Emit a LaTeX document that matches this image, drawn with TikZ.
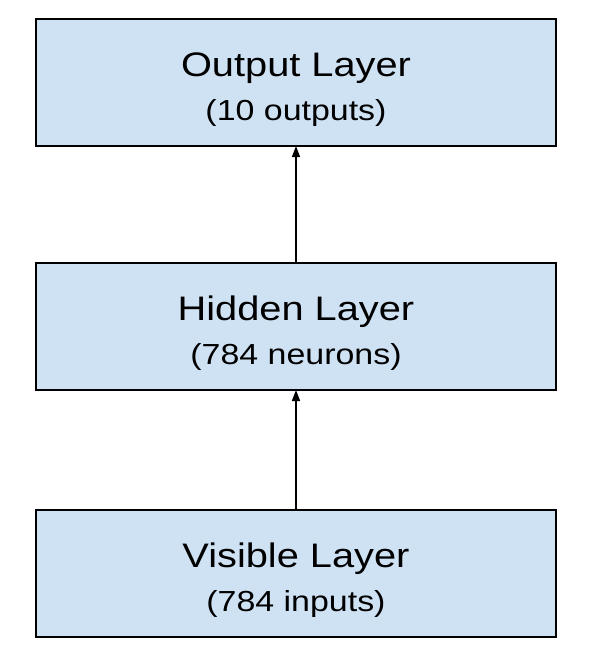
\documentclass[tikz,border=0pt]{standalone}
\usepackage{fontspec}
\newfontfamily\layerfont[FakeStretch=1.17]{Liberation Sans}
\usetikzlibrary{positioning,arrows.meta}
\definecolor{layerblue}{HTML}{CFE2F3}
\newcommand{\layertext}[2]{{\fontsize{34}{36}\selectfont\rule{0pt}{38pt}#1}\\[15pt]{\fontsize{29}{30}\selectfont #2}}
\begin{document}
\begin{tikzpicture}[
        font = \layerfont,
        outer sep = 0mm, inner sep = 0mm,
        layer/.style = {
          rectangle, draw = black, line width = 2pt, fill = layerblue,
          minimum height = 127pt, minimum width = 520pt,
          align = center,
        },
        feed/.style = {
          line width = 1.6pt, -{Triangle[length=11pt, width=8pt]}
        }
      ]

      \useasboundingbox (0,0) rectangle (599pt,-657pt);

      \node[layer] (out) at (296pt,-82.5pt) {\layertext{Output Layer}{(10 outputs)}};
      \node[layer, below = 117pt of out] (hid) {\layertext{Hidden Layer}{(784 neurons)}};
      \node[layer, below = 120pt of hid] (vis) {\layertext{Visible Layer}{(784 inputs)}};

      \draw[feed] (vis.north) to (hid.south);
      \draw[feed] (hid.north) to (out.south);
    \end{tikzpicture}
\end{document}
